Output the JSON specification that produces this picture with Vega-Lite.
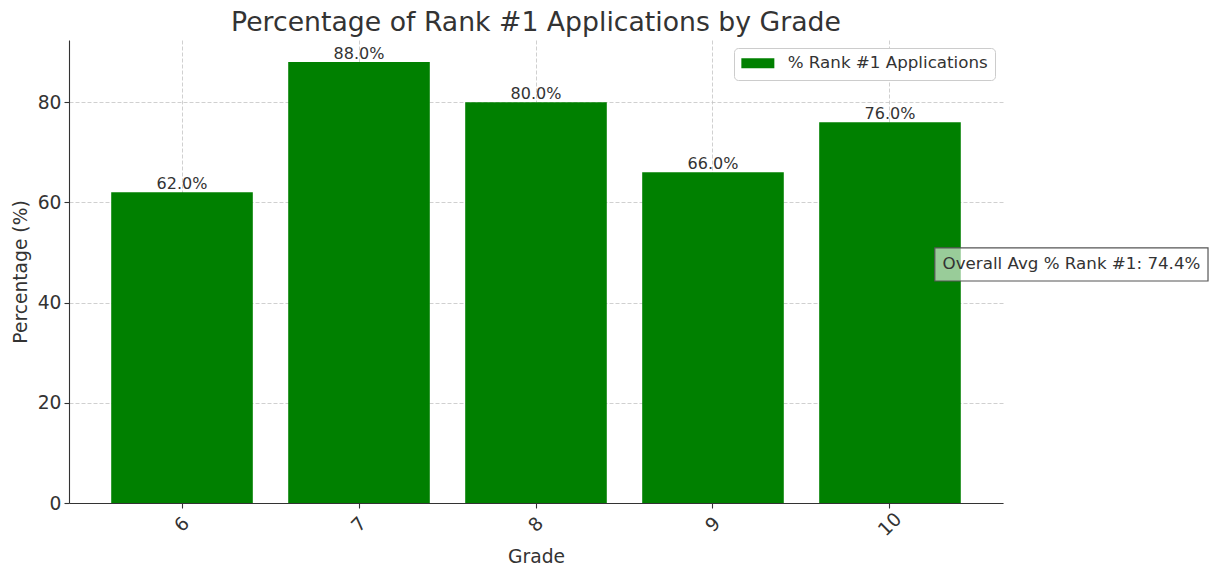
{
  "$schema": "https://vega.github.io/schema/vega-lite/v6.json",
  "autosize": {"type": "none"},
  "padding": {"left": 69, "top": 40, "right": 206, "bottom": 64},
  "width": 934,
  "height": 463,
  "background": "white",
  "config": {
    "font": "DejaVu Sans",
    "view": {"stroke": null},
    "title": {"fontSize": 26.7, "fontWeight": "normal", "color": "#333333", "font": "DejaVu Sans", "baseline": "alphabetic", "offset": 3, "anchor": "middle"},
    "axis": {
      "labelFont": "DejaVu Sans", "titleFont": "DejaVu Sans",
      "labelFontSize": 18.7, "titleFontSize": 18.7, "titleFontWeight": "normal",
      "labelColor": "#333333", "titleColor": "#333333",
      "domainColor": "#333333", "domainWidth": 1.1,
      "tickColor": "#333333", "tickWidth": 1.1, "tickSize": 5,
      "gridColor": "#c4c4c4", "gridDash": [4, 2], "gridWidth": 0.8,
      "zindex": 1
    },
    "legend": {
      "labelFont": "DejaVu Sans", "labelFontSize": 16.7, "labelColor": "#333333", "labelLimit": 0
    }
  },
  "title": "Percentage of Rank #1 Applications by Grade",
  "resolve": {"scale": {"x": "independent"}},
  "layer": [
    {
      "data": {
        "values": [
          {"grade": "6", "pct": 62.0},
          {"grade": "7", "pct": 88.0},
          {"grade": "8", "pct": 80.0},
          {"grade": "9", "pct": 66.0},
          {"grade": "10", "pct": 76.0}
        ]
      },
      "encoding": {
        "x": {
          "field": "grade", "type": "ordinal", "sort": null,
          "scale": {"type": "band", "paddingInner": 0.2, "paddingOuter": 0.2385},
          "axis": {"title": "Grade", "labelAngle": -45, "labelAlign": "center", "labelBaseline": "middle", "labelPadding": 16, "titlePadding": 8, "bandPosition": 0.5, "grid": true}
        },
        "y": {
          "field": "pct", "type": "quantitative",
          "scale": {"domain": [0, 92.4], "nice": false},
          "axis": {"title": "Percentage (%)", "values": [0, 20, 40, 60, 80], "labelPadding": 3, "titlePadding": 7, "grid": true}
        }
      },
      "layer": [
        {
          "mark": {"type": "bar", "color": "#008000"},
          "encoding": {
            "color": {
              "datum": "% Rank #1 Applications",
              "scale": {"range": ["#008000"]},
              "legend": {
                "title": null, "orient": "top-right", "offset": 8,
                "fillColor": "white", "strokeColor": "#cccccc", "cornerRadius": 4, "padding": 7,
                "symbolType": "M-1.6,-1H5V1H-1.6Z", "symbolSize": 100, "symbolStrokeWidth": 0,
                "symbolOpacity": 1, "labelOffset": 30
              }
            }
          }
        },
        {
          "transform": [{"calculate": "format(datum.pct, '.1f') + '%'", "as": "label"}],
          "mark": {"type": "text", "align": "center", "baseline": "alphabetic", "dy": -3, "fontSize": 16, "color": "#333333", "font": "DejaVu Sans"},
          "encoding": {
            "text": {"field": "label"}
          }
        }
      ]
    },
    {
      "data": {"values": [{"note": "Overall Avg % Rank #1: 74.4%", "x1": 0.927, "x2": 1.2195, "xm": 1.0733, "y1": 44.3, "y2": 50.9, "ym": 47.6}]},
      "layer": [
        {
          "mark": {"type": "rect", "fill": "white", "fillOpacity": 0.6, "stroke": "#555555", "strokeWidth": 1.2},
          "encoding": {
            "x": {"field": "x1", "type": "quantitative", "scale": {"domain": [0, 1], "nice": false, "zero": false}, "axis": null},
            "x2": {"field": "x2"},
            "y": {"field": "y1", "type": "quantitative"},
            "y2": {"field": "y2"}
          }
        },
        {
          "mark": {"type": "text", "baseline": "middle", "align": "center", "fontSize": 16.7, "color": "#333333", "font": "DejaVu Sans"},
          "encoding": {
            "x": {"field": "xm", "type": "quantitative", "scale": {"domain": [0, 1], "nice": false, "zero": false}, "axis": null},
            "y": {"field": "ym", "type": "quantitative"},
            "text": {"field": "note"}
          }
        }
      ]
    }
  ]
}
